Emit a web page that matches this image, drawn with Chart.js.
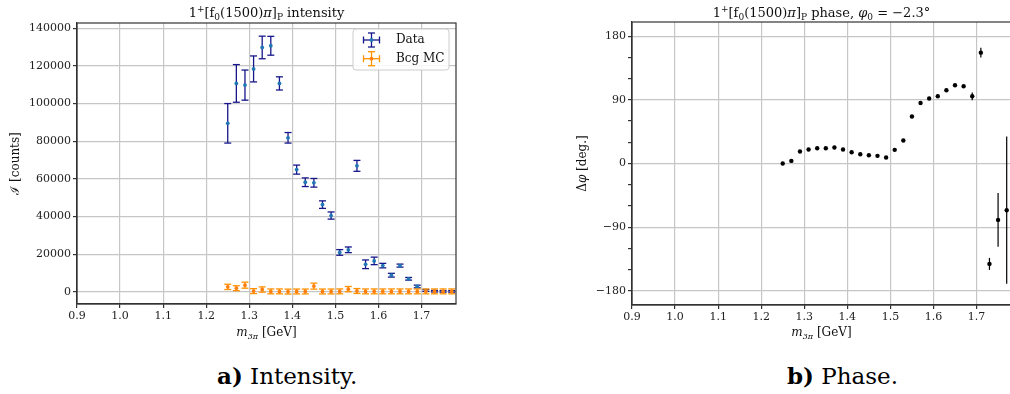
<!DOCTYPE html>
<html>
<head>
  <title>1+[f0(1500)pi]P intensity and phase</title>
  <script src="https://cdn.jsdelivr.net/npm/chart.js"></script>
  <style>
    body {
      margin: 0;
      width: 1010px;
      height: 394px;
      overflow: hidden;
      position: relative;
      background-color: #fff;
      font-family: 'DejaVu Serif', serif;
    }
    canvas {
      position: absolute;
      top: 0;
    }
    #intensityChart { left: 0; }
    #phaseChart { left: 540px; }
    .caption {
      position: absolute;
      top: 364px;
      font-size: 23px;
      line-height: 23px;
      color: #000;
      white-space: nowrap;
    }
  </style>
</head>
<body>
  <canvas id="intensityChart" width="470" height="345"></canvas>
  <canvas id="phaseChart" width="490" height="345"></canvas>
  <div class="caption" style="left:217px"><b>a)</b> Intensity.</div>
  <div class="caption" style="left:787px"><b>b)</b> Phase.</div>
  <script>
    // m_3pi bins [GeV]
    const massBins = [1.25, 1.27, 1.29, 1.31, 1.33, 1.35, 1.37, 1.39, 1.41, 1.43, 1.45, 1.47, 1.49, 1.51,
                      1.53, 1.55, 1.57, 1.59, 1.61, 1.63, 1.65, 1.67, 1.69, 1.71, 1.73, 1.75, 1.77];
    const massHalfWidth = 0.002;

    // intensity [counts]
    const intensityData = [89500, 110700, 109800, 118400, 129800, 130700, 110700, 81800, 64900, 58200, 57900, 46300, 40500, 20900,
                           22300, 66900, 14600, 16400, 13900, 8800, 13900, 6900, 2800, 700, 300, 200, 200];
    const intensityErr = [10500, 10000, 8000, 6900, 6000, 5000, 3500, 2800, 2400, 2300, 2300, 2000, 1900, 1500,
                          1500, 2900, 2300, 2000, 1200, 1000, 800, 700, 700, 500, 400, 400, 400];
    const bcgData = [2600, 1900, 3500, 350, 1200, 200, 200, 100, 150, 150, 3000, 150, 150, 200,
                     1400, 400, 200, 200, 200, 200, 200, 200, 200, 200, 200, 200, 200];
    const bcgErr = [1400, 1300, 1600, 1300, 1400, 1300, 1300, 1300, 1300, 1300, 1600, 1300, 1300, 1300,
                    1400, 1300, 1300, 1300, 1300, 1300, 1300, 1300, 1300, 1300, 1300, 1300, 1300];

    // phase [deg]
    const phaseData = [0, 3.7, 17, 19.8, 21.6, 21.6, 22.6, 19.8, 16, 13.1, 11.7, 10.8, 8.5, 19.3,
                       32.5, 66.4, 85.6, 91.8, 95, 103.5, 110.6, 109.2, 95, 156.7, -141.9, -79.7, -66];
    const phaseErr = [1, 1, 1.5, 1.5, 1.5, 1.5, 1.5, 1.5, 1.5, 1.5, 1.5, 1.5, 1.5, 1.5,
                      1.5, 2, 2, 2, 2, 2, 2, 2, 5.5, 7, 8.5, 38, 104];

    // tick labels
    const massTicks = [0.9, 1.0, 1.1, 1.2, 1.3, 1.4, 1.5, 1.6, 1.7];
    const intensityTicks = [0, 20000, 40000, 60000, 80000, 100000, 120000, 140000];
    const phaseTicks = [-180, -90, 0, 90, 180];
    const phaseMinorTicks = [-150, -120, -60, -30, 30, 60, 120, 150];

    const FONT = "'DejaVu Serif', serif";
    const GRID = '#c6c6c6';
    const AXIS = '#333';

    function points(ys) {
      return massBins.map((m, i) => ({ x: m, y: ys[i] }));
    }

    function fontOf(p) {
      return (p.b ? 'bold ' : '') + (p.i ? 'italic ' : '') + p.s + 'px ' + FONT;
    }

    // text with sub/superscripts, centred on (x, y)
    function richText(ctx, parts, x, y, rotate) {
      ctx.save();
      ctx.translate(x, y);
      if (rotate) ctx.rotate(-Math.PI / 2);
      ctx.textBaseline = 'alphabetic';
      ctx.textAlign = 'left';
      ctx.fillStyle = '#111';
      let w = 0;
      parts.forEach(p => { ctx.font = fontOf(p); w += ctx.measureText(p.t).width; });
      let cx = -w / 2;
      parts.forEach(p => {
        ctx.font = fontOf(p);
        ctx.fillText(p.t, cx, p.dy || 0);
        cx += ctx.measureText(p.t).width;
      });
      ctx.restore();
    }

    function line(ctx, x1, y1, x2, y2) {
      ctx.beginPath();
      ctx.moveTo(x1, y1);
      ctx.lineTo(x2, y2);
      ctx.stroke();
    }

    const errorBars = {
      id: 'errorBars',
      beforeDatasetDraw(chart, args) {
        const ds = chart.data.datasets[args.index];
        if (!ds.yErr) return;
        const { ctx, chartArea, scales: { x, y } } = chart;
        const cap = ds.capSize || 0;
        ctx.save();
        ctx.beginPath();
        ctx.rect(chartArea.left, chartArea.top, chartArea.right - chartArea.left, chartArea.bottom - chartArea.top);
        ctx.clip();
        ctx.strokeStyle = ds.errColor;
        ctx.lineWidth = ds.errWidth || 1.3;
        ds.data.forEach((p, j) => {
          const px = x.getPixelForValue(p.x);
          const py = y.getPixelForValue(p.y);
          const top = y.getPixelForValue(p.y + ds.yErr[j]);
          const bot = y.getPixelForValue(p.y - ds.yErr[j]);
          line(ctx, px, top, px, bot);
          if (cap) {
            line(ctx, px - cap, top, px + cap, top);
            line(ctx, px - cap, bot, px + cap, bot);
          }
          if (ds.xErr) {
            const l = x.getPixelForValue(p.x - ds.xErr);
            const r = x.getPixelForValue(p.x + ds.xErr);
            line(ctx, l, py, r, py);
          }
        });
        ctx.restore();
      }
    };

    const frameAndText = {
      id: 'frameAndText',
      afterDatasetsDraw(chart, args, opts) {
        const { ctx, chartArea } = chart;
        ctx.save();
        ctx.strokeStyle = AXIS;
        ctx.lineWidth = 1.2;
        ctx.strokeRect(chartArea.left, chartArea.top, chartArea.right - chartArea.left, chartArea.bottom - chartArea.top);
        ctx.restore();

        const midX = (chartArea.left + chartArea.right) / 2;
        const midY = (chartArea.top + chartArea.bottom) / 2;
        if (opts.title) richText(ctx, opts.title, midX, 17);
        if (opts.xTitle) richText(ctx, opts.xTitle, midX, 336);
        if (opts.yTitle) richText(ctx, opts.yTitle, opts.yTitleX, midY, true);

        if (opts.legend) {
          const bw = 96, bh = 41;
          const bx = chartArea.right - 7 - bw;
          const by = chartArea.top + 6;
          ctx.save();
          ctx.beginPath();
          ctx.roundRect(bx, by, bw, bh, 3);
          ctx.fillStyle = 'rgba(255,255,255,0.85)';
          ctx.fill();
          ctx.strokeStyle = '#cccccc';
          ctx.lineWidth = 1;
          ctx.stroke();
          chart.data.datasets.forEach((ds, i) => {
            const sx = bx + 18.5;
            const sy = by + 11 + i * 18.7;
            ctx.strokeStyle = ds.errColor;
            ctx.lineWidth = 1.3;
            line(ctx, sx - 8, sy, sx + 8, sy);
            line(ctx, sx, sy - 7, sx, sy + 7);
            line(ctx, sx - 8, sy - 3.5, sx - 8, sy + 3.5);
            line(ctx, sx + 8, sy - 3.5, sx + 8, sy + 3.5);
            line(ctx, sx - 3.5, sy - 7, sx + 3.5, sy - 7);
            line(ctx, sx - 3.5, sy + 7, sx + 3.5, sy + 7);
            ctx.fillStyle = ds.pointBackgroundColor;
            ctx.beginPath();
            ctx.arc(sx, sy, 1.9, 0, Math.PI * 2);
            ctx.fill();
            ctx.fillStyle = '#111';
            ctx.font = '12px ' + FONT;
            ctx.textBaseline = 'middle';
            ctx.textAlign = 'left';
            ctx.fillText(ds.label, bx + 43, sy);
          });
          ctx.restore();
        }
      }
    };

    function xScale(height) {
      return {
        type: 'linear',
        min: 0.9,
        max: 1.78,
        afterBuildTicks: s => { s.ticks = massTicks.map(v => ({ value: v })); },
        afterFit: s => { s.height = height; },
        ticks: {
          callback: v => v.toFixed(1),
          font: { family: FONT, size: 11 },
          color: '#222',
          padding: 2,
          maxRotation: 0,
          autoSkip: false
        },
        grid: { color: GRID, lineWidth: 1.2, tickLength: 4, tickColor: AXIS },
        border: { color: AXIS, width: 1.2 }
      };
    }

    const mTitle = [
      { t: 'm', s: 12, i: true },
      { t: '3π', s: 8, i: true, dy: 2.5 },
      { t: ' [GeV]', s: 12 }
    ];

    function titleParts(rest) {
      return [
        { t: '1', s: 13 },
        { t: '+', s: 9, dy: -5 },
        { t: '[f', s: 13 },
        { t: '0', s: 9, dy: 3 },
        { t: '(1500)', s: 13 },
        { t: 'π', s: 13, i: true },
        { t: ']', s: 13 },
        { t: 'P', s: 9, dy: 3 }
      ].concat(rest);
    }

    new Chart(document.getElementById('intensityChart'), {
      type: 'scatter',
      data: {
        datasets: [{
          label: 'Data',
          data: points(intensityData),
          yErr: intensityErr,
          xErr: massHalfWidth,
          capSize: 3.5,
          errColor: '#16168a',
          pointBackgroundColor: '#1f77b4',
          pointBorderWidth: 0,
          pointRadius: 1.9,
          order: 2
        }, {
          label: 'Bcg MC',
          data: points(bcgData),
          yErr: bcgErr,
          xErr: massHalfWidth,
          capSize: 3.5,
          errColor: '#ff9200',
          pointBackgroundColor: '#ff7f0e',
          pointBorderWidth: 0,
          pointRadius: 1.9,
          order: 1
        }]
      },
      options: {
        responsive: false,
        animation: false,
        layout: { padding: { top: 23, right: 14, bottom: 0, left: 0 } },
        scales: {
          x: xScale(41),
          y: {
            type: 'linear',
            min: -6500,
            max: 142800,
            afterBuildTicks: s => { s.ticks = intensityTicks.map(v => ({ value: v })); },
            afterFit: s => { s.width = 77; },
            ticks: {
              callback: v => String(v),
              font: { family: FONT, size: 11 },
              color: '#222',
              padding: 2
            },
            grid: { color: GRID, lineWidth: 1.2, tickLength: 4, tickColor: AXIS },
            border: { color: AXIS, width: 1.2 }
          }
        },
        plugins: {
          legend: { display: false },
          tooltip: { enabled: false },
          frameAndText: {
            title: titleParts([{ t: ' intensity', s: 13 }]),
            xTitle: mTitle,
            yTitle: [{ t: 'ℐ', s: 12 }, { t: ' [counts]', s: 12 }],
            yTitleX: 18.5,
            legend: true
          }
        }
      },
      plugins: [errorBars, frameAndText]
    });

    new Chart(document.getElementById('phaseChart'), {
      type: 'scatter',
      data: {
        datasets: [{
          label: 'Phase',
          data: points(phaseData),
          yErr: phaseErr,
          errColor: '#000',
          errWidth: 1.2,
          pointBackgroundColor: '#000',
          pointBorderWidth: 0,
          pointRadius: 2.2
        }]
      },
      options: {
        responsive: false,
        animation: false,
        layout: { padding: { top: 22, right: 19, bottom: 0, left: 0 } },
        scales: {
          x: xScale(40),
          y: {
            type: 'linear',
            min: -200,
            max: 200,
            afterBuildTicks: s => {
              s.ticks = phaseTicks.concat(phaseMinorTicks).sort((a, b) => a - b).map(v => ({ value: v }));
            },
            afterFit: s => { s.width = 92; },
            ticks: {
              callback: v => phaseTicks.includes(v) ? String(v).replace('-', '−') : '',
              font: { family: FONT, size: 11 },
              color: '#222',
              padding: 2,
              autoSkip: false
            },
            grid: {
              color: c => (c.tick && phaseTicks.includes(c.tick.value)) ? GRID : 'rgba(0,0,0,0)',
              lineWidth: 1.2,
              tickLength: 4,
              tickColor: AXIS
            },
            border: { color: AXIS, width: 1.2 }
          }
        },
        plugins: {
          legend: { display: false },
          tooltip: { enabled: false },
          frameAndText: {
            title: titleParts([
              { t: ' phase, ', s: 13 },
              { t: 'φ', s: 13, i: true },
              { t: '0', s: 9, dy: 3 },
              { t: ' = −2.3°', s: 13 }
            ]),
            xTitle: mTitle,
            yTitle: [{ t: 'Δ', s: 12 }, { t: 'φ', s: 12, i: true }, { t: ' [deg.]', s: 12 }],
            yTitleX: 46
          }
        }
      },
      plugins: [errorBars, frameAndText]
    });
  </script>
</body>
</html>
